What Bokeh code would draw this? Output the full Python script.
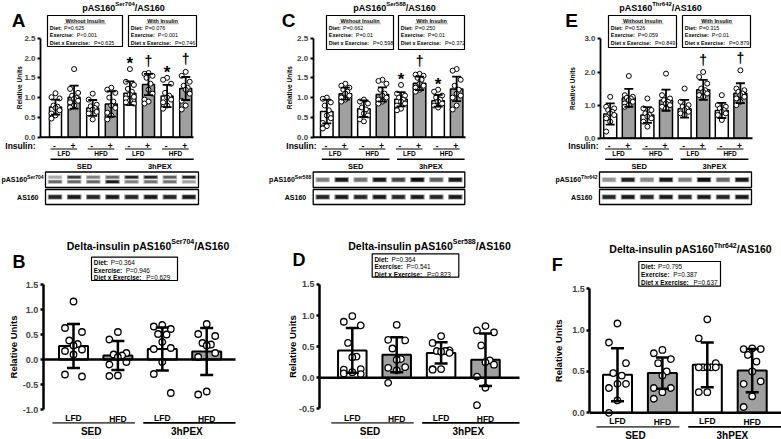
import numpy as np
from bokeh.plotting import figure
from bokeh.models import Range1d, Label, FixedTicker, NumeralTickFormatter
from bokeh.layouts import row, column
from bokeh.embed import file_html
from bokeh.resources import INLINE

FONT = "Liberation Sans"
GREY = "#a0a0a0"

# ---------------- data ----------------
insulin_signs = ["-", "+", "-", "+", "-", "+", "-", "+"]
diet_labels = ["LFD", "HFD", "LFD", "HFD"]
exercise_groups = ["SED", "3hPEX"]
stat_terms = ["Diet:", "Exercise:", "Diet x Exercise:"]

# Panel A  pAS160 Ser704
A_mean = [0.76, 1.01, 0.74, 0.84, 1.11, 1.33, 1.04, 1.23]
A_sd = [0.19, 0.29, 0.20, 0.32, 0.30, 0.27, 0.28, 0.29]
A_points = [
    [1.11, 1.01, 0.98, 0.80, 0.77, 0.74, 0.68, 0.60, 0.55, 0.47],
    [1.72, 1.22, 1.12, 1.05, 1.00, 0.97, 0.92, 0.88, 0.80, 0.75],
    [1.10, 0.95, 0.82, 0.78, 0.74, 0.70, 0.64, 0.60, 0.45],
    [1.25, 1.20, 1.12, 1.00, 0.90, 0.80, 0.74, 0.62, 0.55, 0.45],
    [1.72, 1.40, 1.32, 1.22, 1.15, 1.08, 1.02, 0.98, 0.92, 0.88, 0.85],
    [1.62, 1.60, 1.55, 1.50, 1.35, 1.20, 1.10, 0.95, 0.90, 0.85],
    [1.50, 1.45, 1.35, 1.12, 1.05, 1.00, 0.95, 0.88, 0.80, 0.72],
    [1.65, 1.55, 1.40, 1.30, 1.25, 1.20, 1.10, 0.92, 0.80, 0.70],
]
A_marks = ["", "", "", "", "*", "\u2020", "*", "\u2020"]
A_without = ["P=0.625", "P<0.001", "P=0.635"]
A_with = ["P=0.076", "P<0.001", "P=0.746"]
A_phospho_upper = [0.30, 0.80, 0.50, 0.60, 0.90, 0.90, 0.65, 0.90]
A_phospho_lower = [0.60, 0.60, 0.60, 0.95, 0.50, 0.55, 0.55, 0.35]
A_total = [0.90, 0.95, 0.90, 0.95, 0.90, 0.95, 0.90, 0.95]

# Panel C  pAS160 Ser588
C_mean = [0.65, 1.10, 0.72, 1.08, 0.96, 1.36, 0.92, 1.22]
C_sd = [0.30, 0.15, 0.21, 0.18, 0.18, 0.17, 0.15, 0.31]
C_points = [
    [1.00, 0.97, 0.88, 0.80, 0.68, 0.55, 0.48, 0.36, 0.28, 0.22],
    [1.35, 1.30, 1.25, 1.20, 1.15, 1.10, 1.05, 1.00, 0.95, 0.90],
    [0.95, 0.90, 0.85, 0.75, 0.70, 0.60, 0.55, 0.45, 0.40],
    [1.45, 1.42, 1.35, 1.20, 1.10, 1.05, 1.00, 0.95, 0.90, 0.85],
    [1.32, 1.10, 1.05, 1.00, 0.95, 0.90, 0.85, 0.80, 0.72, 0.68],
    [1.60, 1.58, 1.55, 1.50, 1.45, 1.35, 1.30, 1.25, 1.20, 1.15],
    [1.20, 1.15, 1.05, 1.00, 0.95, 0.90, 0.85, 0.80, 0.75],
    [1.72, 1.68, 1.45, 1.30, 1.20, 1.10, 1.05, 1.00, 0.80, 0.70],
]
C_marks = ["", "", "", "", "*", "\u2020", "*", ""]
C_without = ["P=0.662", "P=0.01", "P=0.598"]
C_with = ["P=0.250", "P=0.01", "P=0.372"]
C_phospho = [0.50, 0.95, 0.55, 0.95, 0.75, 1.00, 0.65, 0.95]
C_total = [0.90, 0.95, 0.90, 0.95, 0.90, 0.95, 0.90, 0.95]

# Panel E  pAS160 Thr642
E_mean = [0.73, 1.22, 0.70, 1.15, 0.89, 1.46, 0.84, 1.36]
E_sd = [0.32, 0.27, 0.24, 0.32, 0.27, 0.30, 0.23, 0.30]
E_points = [
    [1.25, 0.95, 0.90, 0.85, 0.80, 0.75, 0.70, 0.60, 0.50, 0.20],
    [1.88, 1.30, 1.25, 1.22, 1.20, 1.15, 1.10, 1.05, 1.00, 0.95],
    [1.20, 0.90, 0.85, 0.75, 0.70, 0.65, 0.60, 0.50, 0.35],
    [1.95, 1.30, 1.20, 1.15, 1.10, 1.05, 1.00, 0.95, 0.90],
    [1.50, 1.10, 1.00, 0.95, 0.90, 0.85, 0.80, 0.75, 0.70],
    [2.00, 1.85, 1.65, 1.50, 1.45, 1.40, 1.35, 1.30, 1.25],
    [1.30, 1.00, 0.95, 0.90, 0.85, 0.80, 0.75, 0.70, 0.55],
    [2.05, 1.50, 1.45, 1.40, 1.35, 1.30, 1.25, 1.20, 1.10, 1.00],
]
E_marks = ["", "", "", "", "", "\u2020", "", "\u2020"]
E_without = ["P=0.526", "P=0.059", "P=0.849"]
E_with = ["P=0.315", "P<0.01", "P=0.879"]
E_phospho = [0.40, 0.90, 0.45, 0.95, 0.50, 1.00, 0.60, 0.95]
E_total = [0.90, 0.95, 0.90, 0.95, 0.90, 0.95, 0.90, 0.95]

# Panel B  delta Ser704
B_mean = [0.27, 0.08, 0.21, 0.16]
B_sd = [0.44, 0.29, 0.43, 0.47]
B_points = [
    [1.16, 0.63, 0.55, 0.38, 0.31, 0.28, 0.20, 0.17, 0.10, -0.30, -0.34],
    [0.55, 0.40, 0.13, 0.10, 0.08, 0.05, -0.05, -0.10, -0.32, -0.33],
    [0.69, 0.66, 0.61, 0.51, 0.50, 0.35, 0.23, 0.21, -0.05, -0.29, -0.67],
    [0.71, 0.51, 0.47, 0.33, 0.30, 0.28, 0.13, 0.05, -0.64, -0.70],
]
B_stats = ["P=0.364", "P=0.946", "P=0.629"]

# Panel D  delta Ser588
D_mean = [0.44, 0.37, 0.40, 0.29]
D_sd = [0.36, 0.28, 0.17, 0.42]
D_points = [
    [0.99, 0.90, 0.84, 0.56, 0.34, 0.33, 0.14, 0.13, 0.09, 0.07, 0.06],
    [0.85, 0.61, 0.60, 0.47, 0.30, 0.29, 0.17, 0.16, 0.12, -0.08],
    [0.67, 0.56, 0.44, 0.43, 0.43, 0.42, 0.40, 0.14, 0.14, 0.13],
    [0.83, 0.76, 0.73, 0.52, 0.28, 0.25, 0.21, 0.02, -0.16, -0.44],
]
D_stats = ["P=0.364", "P=0.541", "P=0.823"]

# Panel F  delta Thr642
F_mean = [0.46, 0.48, 0.58, 0.51]
F_sd = [0.32, 0.19, 0.27, 0.26]
F_points = [
    [1.08, 0.85, 0.60, 0.48, 0.45, 0.35, 0.35, 0.30, 0.15, 0.00],
    [0.76, 0.72, 0.65, 0.60, 0.50, 0.45, 0.30, 0.30, 0.25, 0.17],
    [1.13, 0.90, 0.60, 0.55, 0.55, 0.55, 0.55, 0.55, 0.25, 0.25],
    [0.78, 0.77, 0.77, 0.70, 0.62, 0.50, 0.38, 0.35, 0.20, 0.07],
]
F_stats = ["P=0.795", "P=0.387", "P=0.637"]

# ---------------- helpers ----------------
BW = {' ': .278, '*': .389, '+': .584, '-': .333, '.': .278, '/': .278, ':': .333,
      '<': .584, '=': .584, 'A': .722, 'B': .722, 'C': .722, 'D': .722, 'E': .667,
      'F': .611, 'H': .722, 'I': .278, 'L': .611, 'P': .667, 'R': .722, 'S': .667,
      'T': .611, 'U': .722, 'W': .944, 'X': .667, 'a': .556, 'c': .556, 'e': .556,
      'h': .611, 'i': .278, 'l': .278, 'n': .611, 'o': .611, 'p': .611, 'r': .389,
      's': .556, 't': .333, 'u': .611, 'v': .556, 'x': .556}
RW = {' ': .278, '.': .278, '=': .584, '<': .584, 'P': .667}


def text_w(s, size, bold=True):
    tbl = BW if bold else RW
    return sum(tbl.get(ch, 0.556) for ch in s) * size


def gray(v):
    g = int(round(240 - 225 * v))
    return "#%02x%02x%02x" % (g, g, g)


def setup(W, H, cfg, tick_fs, axis_w):
    c0, step, y0, unit = cfg["c0"], cfg["step"], cfg["y0"], cfg["unit"]
    X = lambda px: (px - c0) / step
    Y = lambda py: (y0 - py) / unit
    p = figure(width=W, height=H, x_range=Range1d(X(0), X(W)), y_range=Range1d(Y(H), Y(0)),
               output_backend="svg", toolbar_location=None, x_axis_type=None,
               min_border_left=0, min_border_right=0, min_border_top=0, min_border_bottom=0)
    p.outline_line_color = None
    p.grid.visible = False
    p.background_fill_color = "white"
    p.border_fill_color = "white"
    ax = p.yaxis[0]
    ax.fixed_location = X(cfg["axis_x"])
    ax.bounds = cfg["bounds"]
    ax.ticker = FixedTicker(ticks=cfg["ticks"])
    ax.formatter = NumeralTickFormatter(format="0.0")
    ax.major_label_text_font = FONT
    ax.major_label_text_font_style = "bold"
    ax.major_label_text_font_size = f"{tick_fs}px"
    ax.axis_line_width = axis_w
    ax.major_tick_line_width = axis_w
    ax.major_tick_out = 3
    ax.major_tick_in = 0
    ax.minor_tick_out = 0
    ax.minor_tick_in = 0
    ax.major_label_standoff = 2
    return p, X, Y


def txt(p, X, Y, xp, yp, s, size, bold=True, align="center", base="middle", angle=0.0):
    p.add_layout(Label(x=X(xp), y=Y(yp), text=s, text_font=FONT,
                       text_font_size=f"{size}px",
                       text_font_style="bold" if bold else "normal",
                       text_align=align, text_baseline=base, angle=angle,
                       text_color="black"))


def sup_text(p, X, Y, x, y, parts, align="center"):
    widths = [text_w(t, s) for t, s, _ in parts]
    total = sum(widths)
    if align == "center":
        cur = x - total / 2
    elif align == "right":
        cur = x - total
    else:
        cur = x
    base = parts[0][1]
    for (t, s, is_sup), w in zip(parts, widths):
        txt(p, X, Y, cur, y - 0.36 * base if is_sup else y, t, s, True, "left")
        cur += w


def jitter_offsets(vals):
    pattern = [0.0, -1.0, 1.0, -0.5, 0.5, 0.0, 1.0, -1.0]
    order = sorted(range(len(vals)), key=lambda k: -vals[k])
    offs = [0.0] * len(vals)
    for rank, k in enumerate(order):
        offs[k] = pattern[rank % len(pattern)]
    return offs


def draw_data(p, X, Y, cfg, mean, sd, pts, fills, st):
    n = len(mean)
    xs = np.arange(n, dtype=float)
    step = cfg["step"]
    p.vbar(x=xs, top=mean, bottom=0, width=cfg["bw"] / step, fill_color=fills,
           line_color="black", line_width=st["bar_lw"])
    px, py = [], []
    for i, vals in enumerate(pts):
        for v, o in zip(vals, jitter_offsets(vals)):
            px.append(i + o * st["spread"] / step)
            py.append(v)
    p.scatter(px, py, size=st["pt"], marker="circle", fill_color="white",
              line_color="black", line_width=st["pt_lw"])
    lo = [m - s for m, s in zip(mean, sd)]
    hi = [m + s for m, s in zip(mean, sd)]
    cap = st["cap"] / step
    p.segment(x0=xs, y0=lo, x1=xs, y1=hi, line_width=st["eb_lw"], line_color="black")
    p.segment(x0=xs - cap, y0=hi, x1=xs + cap, y1=hi, line_width=st["eb_lw"], line_color="black")
    p.segment(x0=xs - cap, y0=lo, x1=xs + cap, y1=lo, line_width=st["eb_lw"], line_color="black")
    p.segment(x0=[X(cfg["axis_x"])], y0=[0], x1=[X(cfg["zero_end"])], y1=[0],
              line_width=st["zero_lw"], line_color="black")


def stat_box(p, X, Y, box, header, values, fs, rows):
    x0, x1, yt, yb = box
    p.quad(left=X(x0), right=X(x1), top=Y(yt), bottom=Y(yb), fill_color="white",
           line_color="black", line_width=1.2)
    rows = [yt + r for r in rows]
    if header:
        cx = (x0 + x1) / 2
        txt(p, X, Y, cx, rows[0], header, fs)
        w = text_w(header, fs) * 1.08
        uy = rows[0] + fs * 0.6
        p.segment(x0=[X(cx - w / 2)], y0=[Y(uy)], x1=[X(cx + w / 2)], y1=[Y(uy)],
                  line_color="#888888", line_width=0.7)
        rows = rows[1:]
    for term, v, yy in zip(stat_terms, values, rows):
        lab = term + " "
        txt(p, X, Y, x0 + 2.3, yy, lab, fs, True, "left")
        txt(p, X, Y, x0 + 2.3 + text_w(lab, fs) * 1.06, yy, v, fs, False, "left")


def blot(p, X, Y, cfg, x0, x1, y0, y1, bands):
    p.quad(left=X(x0), right=X(x1), top=Y(y0), bottom=Y(y1), fill_color="white",
           line_color="black", line_width=1.3)
    lane = (x1 - x0) / 8
    cy = (y0 + y1) / 2
    for dy, h, ints in bands:
        xs = [X(x0 + lane * (k + 0.5)) for k in range(len(ints))]
        p.rect(x=xs, y=Y(cy + dy), width=0.76 * lane / cfg["step"],
               height=(h + 1.6) / cfg["unit"],
               fill_color=[gray(0.5 * v) for v in ints], line_color=None)
        p.rect(x=xs, y=Y(cy + dy), width=0.64 * lane / cfg["step"], height=h / cfg["unit"],
               fill_color=[gray(v) for v in ints], line_color=None)


TOP_ST = dict(bar_lw=1.5, pt=5, pt_lw=1.0, eb_lw=1.8, cap=4.5, spread=4.0, zero_lw=2)
BOT_ST = dict(bar_lw=2, pt=6.5, pt_lw=1.3, eb_lw=2.5, cap=6.5, spread=8.5, zero_lw=2.5)
TOP_H, BOT_H = 225, 214


def top_panel(cfg, letter, site, mean, sd, pts, marks, st_wo, st_w, bands_p, bands_t):
    W, H = cfg["W"], TOP_H
    p, X, Y = setup(W, H, cfg, 8, 1.8)
    fills = ["white", GREY] * 4
    draw_data(p, X, Y, cfg, mean, sd, pts, fills, TOP_ST)
    c = [cfg["c0"] + cfg["step"] * i for i in range(8)]
    for i, mk in enumerate(marks):
        if mk:
            top_px = cfg["y0"] - max(pts[i]) * cfg["unit"]
            if mk == "*":
                txt(p, X, Y, c[i], top_px - 5.5, mk, 17)
            else:
                txt(p, X, Y, c[i], top_px - 12.5, mk, 14)
    sup_text(p, X, Y, cfg["title_x"], 7, [("pAS160", 9, False), (site, 6, True), ("/AS160", 9, False)])
    txt(p, X, Y, cfg["letter"][0], cfg["letter"][1], letter, 19)
    b0, b1 = cfg["bounds"]
    txt(p, X, Y, cfg["ru_x"], cfg["y0"] - (b0 + b1) / 2 * cfg["unit"], "Relative Units", 6.5,
        angle=np.pi / 2)
    rows = [5, 12.3, 19.5, 27]
    stat_box(p, X, Y, cfg["box1"], "Without Insulin", st_wo, 5.4, rows)
    stat_box(p, X, Y, cfg["box2"], "With Insulin", st_w, 5.4, rows)
    txt(p, X, Y, cfg["ins_right"], 145, "Insulin:", 8.5, True, "right")
    for i, s in enumerate(insulin_signs):
        txt(p, X, Y, c[i] - 1, 145, s, 8.5)
    for k, d in enumerate(diet_labels):
        a, b = c[2 * k], c[2 * k + 1]
        p.segment(x0=[X(a - 5)], y0=[Y(148.5)], x1=[X(b + 3)], y1=[Y(148.5)],
                  line_color="black", line_width=1)
        txt(p, X, Y, (a + b) / 2 - 1, 152.8, d, 6.5)
    for g, (a, b) in zip(exercise_groups, [(c[0] - 5, c[3] + 7), (c[4] - 4, c[7] + 8)]):
        p.segment(x0=[X(a)], y0=[Y(158.7)], x1=[X(b)], y1=[Y(158.7)],
                  line_color="black", line_width=1.5)
        txt(p, X, Y, (a + b) / 2, 165.5, g, 7.5)
    bx0, bx1 = cfg["blot_x"]
    blot(p, X, Y, cfg, bx0, bx1, 171.5, 187, bands_p)
    blot(p, X, Y, cfg, bx0, bx1, 189, 204, bands_t)
    sup_text(p, X, Y, bx0 - 2, 179.3, [("pAS160", 7, False), (site, 5, True)], "right")
    txt(p, X, Y, bx0 - 7, 196.5, "AS160", 7, True, "right")
    return p


def bottom_panel(cfg, letter, site, mean, sd, pts, stats):
    W, H = cfg["W"], BOT_H
    p, X, Y = setup(W, H, cfg, 9, 2.5)
    fills = ["white", GREY, "white", GREY]
    draw_data(p, X, Y, cfg, mean, sd, pts, fills, BOT_ST)
    c = [cfg["c0"] + cfg["step"] * i for i in range(4)]
    sup_text(p, X, Y, cfg["title_x"], cfg["title_y"],
             [("Delta-insulin pAS160", 10.5, False), (site, 7, True), ("/AS160", 10.5, False)])
    txt(p, X, Y, cfg["letter"][0], cfg["letter"][1], letter, 18)
    b0, b1 = cfg["bounds"]
    txt(p, X, Y, cfg["ru_x"], cfg["y0"] - (b0 + b1) / 2 * cfg["unit"], "Relative Units", 9.5,
        angle=np.pi / 2)
    stat_box(p, X, Y, cfg["box"], None, stats, 6.4, [5.3, 13, 20.6])
    for i, d in enumerate(diet_labels):
        txt(p, X, Y, c[i], cfg["diet_y"] + (1.2 if d == "HFD" else 0), d, 8.5)
    gy = cfg["group_y"]
    spans = [(c[0] - 21, c[1] + 17, "#555555"), (c[2] - 19, cfg["zero_end"], "black")]
    for g, (a, b, col) in zip(exercise_groups, spans):
        p.segment(x0=[X(a)], y0=[Y(gy)], x1=[X(b)], y1=[Y(gy)], line_color=col, line_width=1.8)
        txt(p, X, Y, (a + b) / 2 - 2.5, cfg["ex_y"], g, 10)
    return p


cfgA = dict(W=260, axis_x=40, y0=136.7, unit=39.6, c0=55, step=18.6, bw=12, bounds=(0, 2.5),
            ticks=[0, 0.5, 1.0, 1.5, 2.0, 2.5], zero_end=193, box1=(47, 122, 15, 46),
            box2=(128, 196, 15, 46), title_x=123, letter=(18, 20), ru_x=19, ins_right=35,
            blot_x=(45, 198))
cfgC = dict(W=260, axis_x=52.7, y0=136.7, unit=39.6, c0=66.3, step=18.55, bw=12.5, bounds=(0, 2.5),
            ticks=[0, 0.5, 1.0, 1.5, 2.0, 2.5], zero_end=205, box1=(66, 133, 15, 49),
            box2=(138, 204, 15, 49), title_x=134, letter=(28, 20), ru_x=29.3, ins_right=56,
            blot_x=(52.7, 204.3))
cfgE = dict(W=261, axis_x=80, y0=137.7, unit=33.1, c0=89.7, step=18.6, bw=13, bounds=(0, 3),
            ticks=[0, 1.0, 2.0, 3.0], zero_end=232, box1=(88, 156, 15, 47),
            box2=(162, 230, 15, 47), title_x=140, letter=(51, 20), ru_x=51.7, ins_right=78,
            blot_x=(79, 231))
cfgB = dict(W=260, axis_x=42.7, y0=134, unit=50, c0=73, step=44.4, bw=29, bounds=(-1, 1.5),
            ticks=[-1.0, -0.5, 0, 0.5, 1.0, 1.5], zero_end=235, box=(91, 177, 31.7, 55),
            title_x=147.5, title_y=20, letter=(18.5, 36), ru_x=13, diet_y=192, group_y=197.3,
            ex_y=205.7)
cfgD = dict(W=260, axis_x=59, y0=152.3, unit=62.3, c0=91.8, step=44.4, bw=28.5, bounds=(-0.5, 1.5),
            ticks=[-0.5, 0, 0.5, 1.0, 1.5], zero_end=259, box=(111.7, 198.3, 28.3, 51.7),
            title_x=169, title_y=20, letter=(38.5, 34), ru_x=31.7, diet_y=192, group_y=197.3,
            ex_y=205.7)
cfgF = dict(W=261, axis_x=69.3, y0=187.3, unit=82.7, c0=97, step=44.9, bw=29, bounds=(0, 1.5),
            ticks=[0, 0.5, 1.0, 1.5], zero_end=261, box=(118.3, 200, 36, 60.7),
            title_x=170, title_y=23.3, letter=(36.7, 39), ru_x=38.3, diet_y=195, group_y=201.3,
            ex_y=209.5)

pA = top_panel(cfgA, "A", "Ser704", A_mean, A_sd, A_points, A_marks, A_without, A_with,
               [(-2.6, 2.2, A_phospho_upper), (2.0, 2.4, A_phospho_lower)],
               [(0, 3.5, A_total)])
pC = top_panel(cfgC, "C", "Ser588", C_mean, C_sd, C_points, C_marks, C_without, C_with,
               [(0, 3.5, C_phospho)], [(0, 3.5, C_total)])
pE = top_panel(cfgE, "E", "Thr642", E_mean, E_sd, E_points, E_marks, E_without, E_with,
               [(0, 3.5, E_phospho)], [(0, 3.5, E_total)])
pB = bottom_panel(cfgB, "B", "Ser704", B_mean, B_sd, B_points, B_stats)
pD = bottom_panel(cfgD, "D", "Ser588", D_mean, D_sd, D_points, D_stats)
pF = bottom_panel(cfgF, "F", "Thr642", F_mean, F_sd, F_points, F_stats)

layout = column(row(pA, pC, pE, spacing=0), row(pB, pD, pF, spacing=0), spacing=0)

with open("out.html", "w") as f:
    f.write(file_html(layout, INLINE))
